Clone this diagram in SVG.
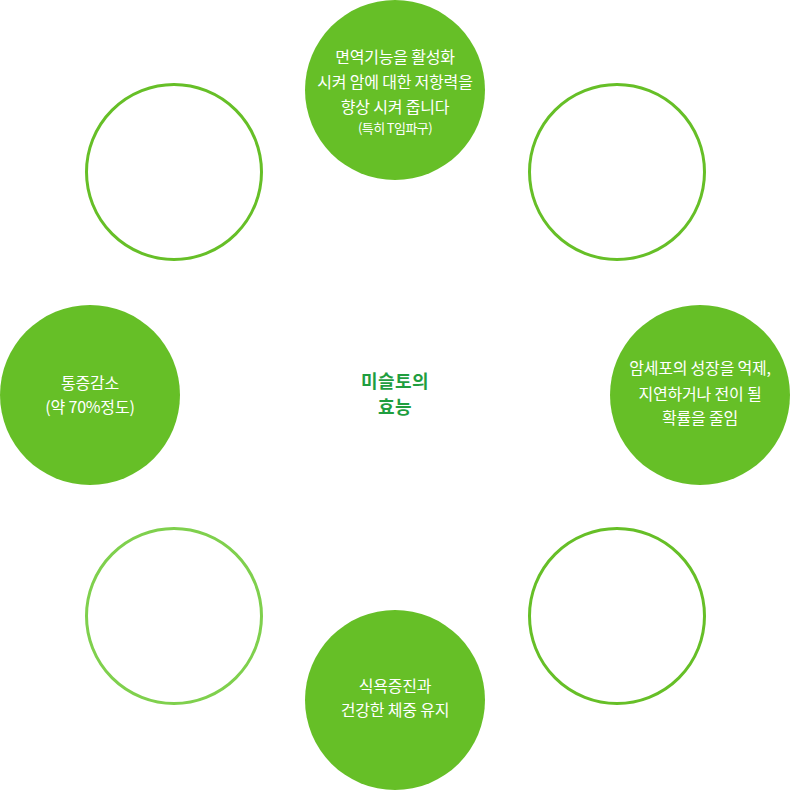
<svg xmlns="http://www.w3.org/2000/svg" width="790" height="790" viewBox="0 0 790 790">
<style>
.fill{fill:#66bf27}
.ring{fill:#fff;stroke:#66bf27;stroke-width:3}
.ring2{fill:#fff;stroke:#7fd04d;stroke-width:3}
.t{font-family:"Noto Sans CJK KR","Noto Sans",sans-serif;font-size:16px;fill:#fff;text-anchor:middle;letter-spacing:-0.2px}
.s{font-size:13px;letter-spacing:-0.6px}
.c{font-family:"Noto Sans CJK KR","Noto Sans",sans-serif;font-size:18px;font-weight:bold;fill:#1f9e3f;text-anchor:middle;letter-spacing:0.5px}
</style>
<rect width="790" height="790" fill="#fff"/>
<g id="connectors"></g>
<g id="center">
<text class="c" x="395" y="388">미슬토의</text>
<text class="c" x="395" y="414">효능</text>
</g>
<g id="top">
<circle class="fill" cx="395" cy="90" r="90"/>
<text class="t" x="395" y="63">면역기능을 활성화</text>
<text class="t" x="395" y="88">시켜 암에 대한 저항력을</text>
<text class="t" x="395" y="113">향상 시켜 줍니다</text>
<text class="t s" x="395" y="133">(특히 T임파구)</text>
</g>
<g id="top-left"><circle class="ring" cx="174" cy="172" r="87.5"/></g>
<g id="top-right"><circle class="ring" cx="617" cy="172" r="87.5"/></g>
<g id="left">
<circle class="fill" cx="90" cy="395" r="90"/>
<text class="t" x="90" y="389">통증감소</text>
<text class="t" x="90" y="413">(약 70%정도)</text>
</g>
<g id="right">
<circle class="fill" cx="700" cy="395" r="90"/>
<text class="t" x="700" y="374">암세포의 성장을 억제,</text>
<text class="t" x="700" y="400">지연하거나 전이 될</text>
<text class="t" x="700" y="424">확률을 줄임</text>
</g>
<g id="bottom-left"><circle class="ring2" cx="174" cy="616" r="87.5"/></g>
<g id="bottom-right"><circle class="ring" cx="617" cy="616" r="87.5"/></g>
<g id="bottom">
<circle class="fill" cx="395" cy="700" r="90"/>
<text class="t" x="395" y="692">식욕증진과</text>
<text class="t" x="395" y="716">건강한 체중 유지</text>
</g>
</svg>
